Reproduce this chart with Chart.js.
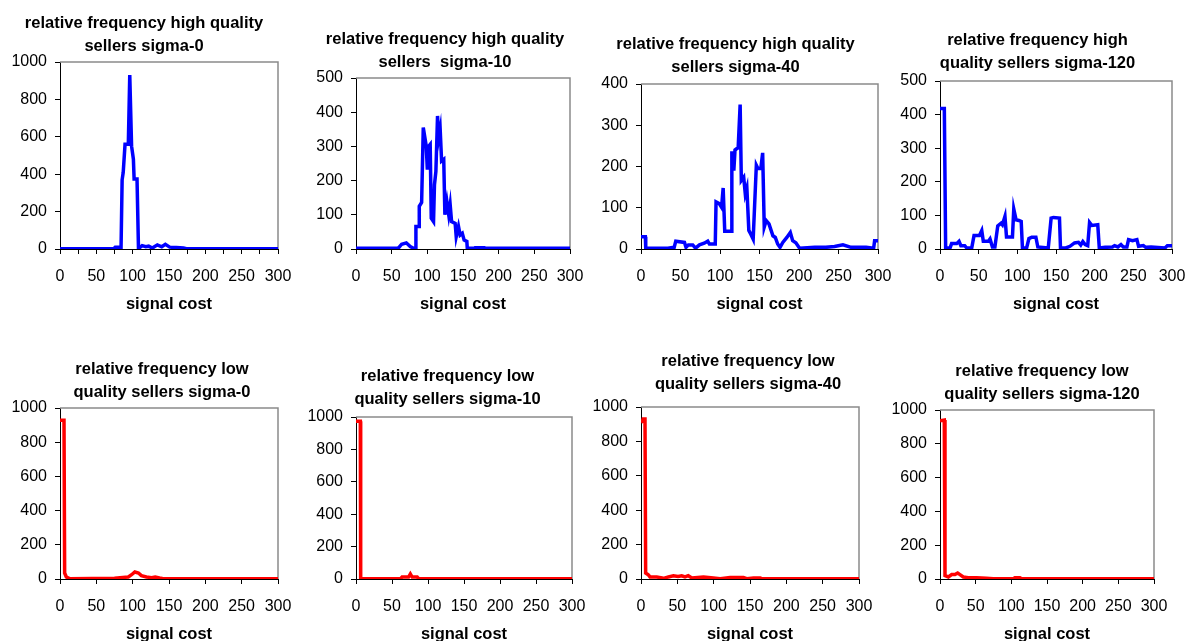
<!DOCTYPE html>
<html>
<head>
<meta charset="utf-8">
<script src="https://cdn.jsdelivr.net/npm/chart.js@4.4.1/dist/chart.umd.min.js"></script>
<style>
  html, body { margin: 0; padding: 0; background: #fff; overflow: hidden; }
  body { position: relative; width: 1186px; height: 641px; }
  canvas { position: absolute; }
</style>
</head>
<body>
<script>
// signal cost (x) and relative frequency (y)

// high quality sellers
const hq0Cost = [0, 74, 76, 83, 84, 85.5, 87, 89.5, 94, 96, 98.5, 101, 102, 106, 108, 113, 118, 122, 127, 134, 140, 145, 151, 160, 170, 174, 300];
const hq0Freq = [2, 2, 10, 10, 2, 370, 410, 560, 560, 930, 550, 480, 375, 375, 2, 18, 12, 15, 5, 22, 12, 25, 10, 8, 6, 2, 2];

const hq10Cost = [0, 58, 60, 64, 70.5, 76, 80.7, 84, 84, 88.7, 88.7, 92, 94.3, 98.5, 100, 102, 104, 105.5, 108.7, 110, 112, 114.3, 116, 118, 120, 123, 124.6, 127.4, 130, 132, 134, 139, 140.5, 143.7, 146, 149, 151.6, 155.4, 156, 166, 167, 180, 181, 300];
const hq10Freq = [2, 2, 4, 14, 18, 7, 2, 2, 66, 66, 125, 136, 355, 301, 232, 301, 306, 90, 80, 188, 227, 389, 325, 350, 257, 262, 100, 139, 100, 130, 80, 75, 36, 66, 41, 46, 26, 22, 2, 2, 4, 4, 2, 2];

const hq40Cost = [0, 5.5, 6, 34, 42, 44, 55, 57, 60, 65.5, 69, 74, 80, 84.5, 86.6, 94, 95, 99, 102, 104, 106, 115, 115, 117.5, 119, 121, 123, 125.5, 127, 130, 132, 134, 136.5, 139, 142, 146, 148, 151.7, 154, 156, 158.5, 162, 167, 170, 173, 176, 179.5, 184.6, 189, 192, 196, 200.7, 220, 234, 245, 255.6, 266, 276, 285, 294.5, 295.7, 300];
const hq40Freq = [30, 30, 2, 2, 4, 19, 16, 4, 10, 10, 2, 10, 14, 19, 12, 12, 114, 110, 101, 148, 43, 43, 237, 190, 240, 243, 245, 350, 166, 174, 134, 148, 45, 36, 24, 203, 195, 195, 233, 53, 69, 61, 32, 28, 12, 4, 16, 28, 40, 20, 15, 2, 4, 4, 6, 10, 4, 4, 4, 2, 20, 20];

const hq120Cost = [0, 5.6, 7.3, 13, 15, 21.6, 24.6, 27, 32, 34.5, 41, 44, 51, 54, 56, 62.6, 64.7, 67.8, 71, 74.7, 79, 80.7, 84, 86, 93.7, 95.4, 98.4, 102, 105, 106.6, 112, 115, 118.7, 124, 126.5, 140, 143.7, 146.7, 154.5, 155.8, 162.7, 168, 174, 179, 182, 184.7, 187.7, 191, 193.4, 196.4, 204, 206, 213.6, 223, 225.7, 230, 234, 237, 241.7, 243.8, 249, 254.6, 256.8, 263, 266, 273, 291, 294, 300];
const hq120Freq = [418, 418, 3, 3, 16, 16, 23, 10, 10, 3, 3, 40, 40, 55, 23, 23, 30, 6, 6, 69, 77, 72, 97, 36, 36, 119, 87, 85, 82, 3, 3, 31, 35, 35, 6, 3, 92, 94, 92, 3, 3, 8, 18, 20, 12, 22, 13, 10, 79, 70, 72, 3, 5, 6, 10, 6, 13, 6, 6, 28, 25, 28, 8, 10, 5, 6, 3, 10, 10];

// low quality sellers
const lq0Cost = [0, 5.5, 6.4, 8.7, 13, 75, 94, 98.5, 103, 108, 112, 119, 126, 131, 137, 142, 300];
const lq0Freq = [928, 928, 35, 12, 2, 4, 12, 25, 41, 35, 20, 12, 8, 12, 6, 2, 2];

const lq10Cost = [0, 6, 6.5, 62, 64, 73, 75.5, 78, 85, 87, 300];
const lq10Freq = [973, 973, 2, 2, 12, 12, 31, 12, 12, 2, 2];

const lq40Cost = [0, 2, 3, 5.5, 6.4, 10, 12.4, 21.6, 31, 37.7, 44.6, 51, 56, 60.6, 65, 70, 86, 99.7, 109, 122.6, 141, 145.6, 154.8, 164, 166, 300];
const lq40Freq = [911, 917, 930, 930, 35, 25, 12, 12, 4, 12, 19, 15, 19, 12, 19, 6, 12, 6, 2, 8, 8, 2, 6, 6, 2, 2];

const lq120Cost = [0, 6, 7, 11.7, 16.4, 21, 24.8, 28, 32.7, 39.7, 51.4, 65, 74.8, 102.8, 105, 112, 114.5, 300];
const lq120Freq = [937, 941, 20, 12, 26, 26, 35, 26, 12, 8, 8, 4, 2, 2, 8, 8, 2, 2];

const FONT = '"Liberation Sans", Arial, sans-serif';
const BLUE = '#0000ff';
const RED = '#ff0000';

// box = plot area [left, right, top, bottom] in page px
const panels = [
  { title: ['relative frequency high quality', 'sellers sigma-0'], cost: hq0Cost, freq: hq0Freq, color: BLUE, yMax: 1000, yStep: 200, xStep: 25, box: [60, 278, 62, 249], titleX: 144, titleGap: 17 },
  { title: ['relative frequency high quality', 'sellers  sigma-10'], cost: hq10Cost, freq: hq10Freq, color: BLUE, yMax: 500, yStep: 100, xStep: 50, box: [356, 570, 78, 249], titleX: 445, titleGap: 17 },
  { title: ['relative frequency high quality', 'sellers sigma-40'], cost: hq40Cost, freq: hq40Freq, color: BLUE, yMax: 400, yStep: 100, xStep: 50, box: [641, 878, 84, 249], titleX: 735.5, titleGap: 18 },
  { title: ['relative frequency high', 'quality sellers sigma-120'], cost: hq120Cost, freq: hq120Freq, color: BLUE, yMax: 500, yStep: 100, xStep: 50, box: [940, 1172, 81, 249], titleX: 1037.5, titleGap: 19 },
  { title: ['relative frequency low', 'quality sellers sigma-0'], cost: lq0Cost, freq: lq0Freq, color: RED, yMax: 1000, yStep: 200, xStep: 50, box: [60, 278, 408, 579], titleX: 162, titleGap: 17 },
  { title: ['relative frequency low', 'quality sellers sigma-10'], cost: lq10Cost, freq: lq10Freq, color: RED, yMax: 1000, yStep: 200, xStep: 50, box: [356, 572, 417, 579], titleX: 447.5, titleGap: 19 },
  { title: ['relative frequency low', 'quality sellers sigma-40'], cost: lq40Cost, freq: lq40Freq, color: RED, yMax: 1000, yStep: 200, xStep: 50, box: [641, 859, 407, 579], titleX: 748, titleGap: 24 },
  { title: ['relative frequency low', 'quality sellers sigma-120'], cost: lq120Cost, freq: lq120Freq, color: RED, yMax: 1000, yStep: 200, xStep: 50, box: [940, 1154, 410, 579], titleX: 1042, titleGap: 17 }
];

// grey top and right edge of the plot box
const framePlugin = {
  id: 'frame',
  beforeDatasetsDraw(chart) {
    const { ctx, chartArea: a } = chart;
    ctx.save();
    ctx.strokeStyle = '#8a8a8a';
    ctx.lineWidth = 1.5;
    ctx.beginPath();
    ctx.moveTo(a.left, a.top);
    ctx.lineTo(a.right, a.top);
    ctx.lineTo(a.right, a.bottom);
    ctx.stroke();
    ctx.restore();
  }
};

// padR must cover the last x label's overhang plus tick padding
const padL = 10, padR = 32, yW = 55, xH = 65, lh = 23;

panels.forEach(p => {
  const [L, R, T, B] = p.box;
  // empty right-hand axis whose width moves the title centre where the original has it
  const wR = 2 * p.titleX - L - R + yW;
  const cLeft = L - yW - padL;
  const cTop = T - 2 * lh - (p.titleGap - 13);
  const w = R + wR + padR - cLeft;
  const h = B - cTop + xH;

  const cv = document.createElement('canvas');
  cv.width = w;
  cv.height = h;
  cv.style.left = cLeft + 'px';
  cv.style.top = cTop + 'px';
  cv.style.width = w + 'px';
  cv.style.height = h + 'px';
  document.body.appendChild(cv);

  new Chart(cv, {
    type: 'line',
    data: {
      datasets: [{
        data: p.cost.map((c, i) => ({ x: c, y: p.freq[i] })),
        borderColor: p.color,
        borderWidth: 3.5,
        pointRadius: 0,
        tension: 0,
        fill: false
      }]
    },
    options: {
      responsive: false,
      animation: false,
      devicePixelRatio: 1,
      layout: { padding: { left: padL, right: padR, top: 0, bottom: 0 } },
      plugins: {
        legend: { display: false },
        tooltip: { enabled: false },
        title: {
          display: true,
          text: p.title,
          color: '#000',
          font: { family: FONT, size: 16.5, weight: 'bold', lineHeight: lh + 'px' },
          padding: { top: 0, bottom: p.titleGap - 13 }
        }
      },
      scales: {
        x: {
          type: 'linear',
          min: 0,
          max: 300,
          afterFit: s => { s.height = xH; },
          border: { color: '#000', width: 1 },
          grid: { drawOnChartArea: false, tickLength: 5, color: '#000' },
          ticks: {
            stepSize: p.xStep,
            autoSkip: false,
            maxRotation: 0,
            padding: 13,
            color: '#000',
            font: { family: FONT, size: 16 },
            callback: v => (v % 50 === 0 ? String(v) : '')
          },
          title: {
            display: true,
            text: 'signal cost',
            color: '#000',
            font: { family: FONT, size: 16.5, weight: 'bold' },
            padding: 0
          }
        },
        y: {
          min: 0,
          max: p.yMax,
          afterFit: s => { s.width = yW; },
          border: { color: '#000', width: 1 },
          grid: { drawOnChartArea: false, tickLength: 5, color: '#000' },
          ticks: {
            stepSize: p.yStep,
            padding: 8,
            color: '#000',
            font: { family: FONT, size: 16 },
            callback: v => String(v)
          }
        },
        yr: {
          position: 'right',
          min: 0,
          max: p.yMax,
          afterFit: s => { s.width = wR; },
          border: { display: false },
          grid: { display: false },
          ticks: { display: false }
        }
      }
    },
    plugins: [framePlugin]
  });
});
</script>
</body>
</html>
